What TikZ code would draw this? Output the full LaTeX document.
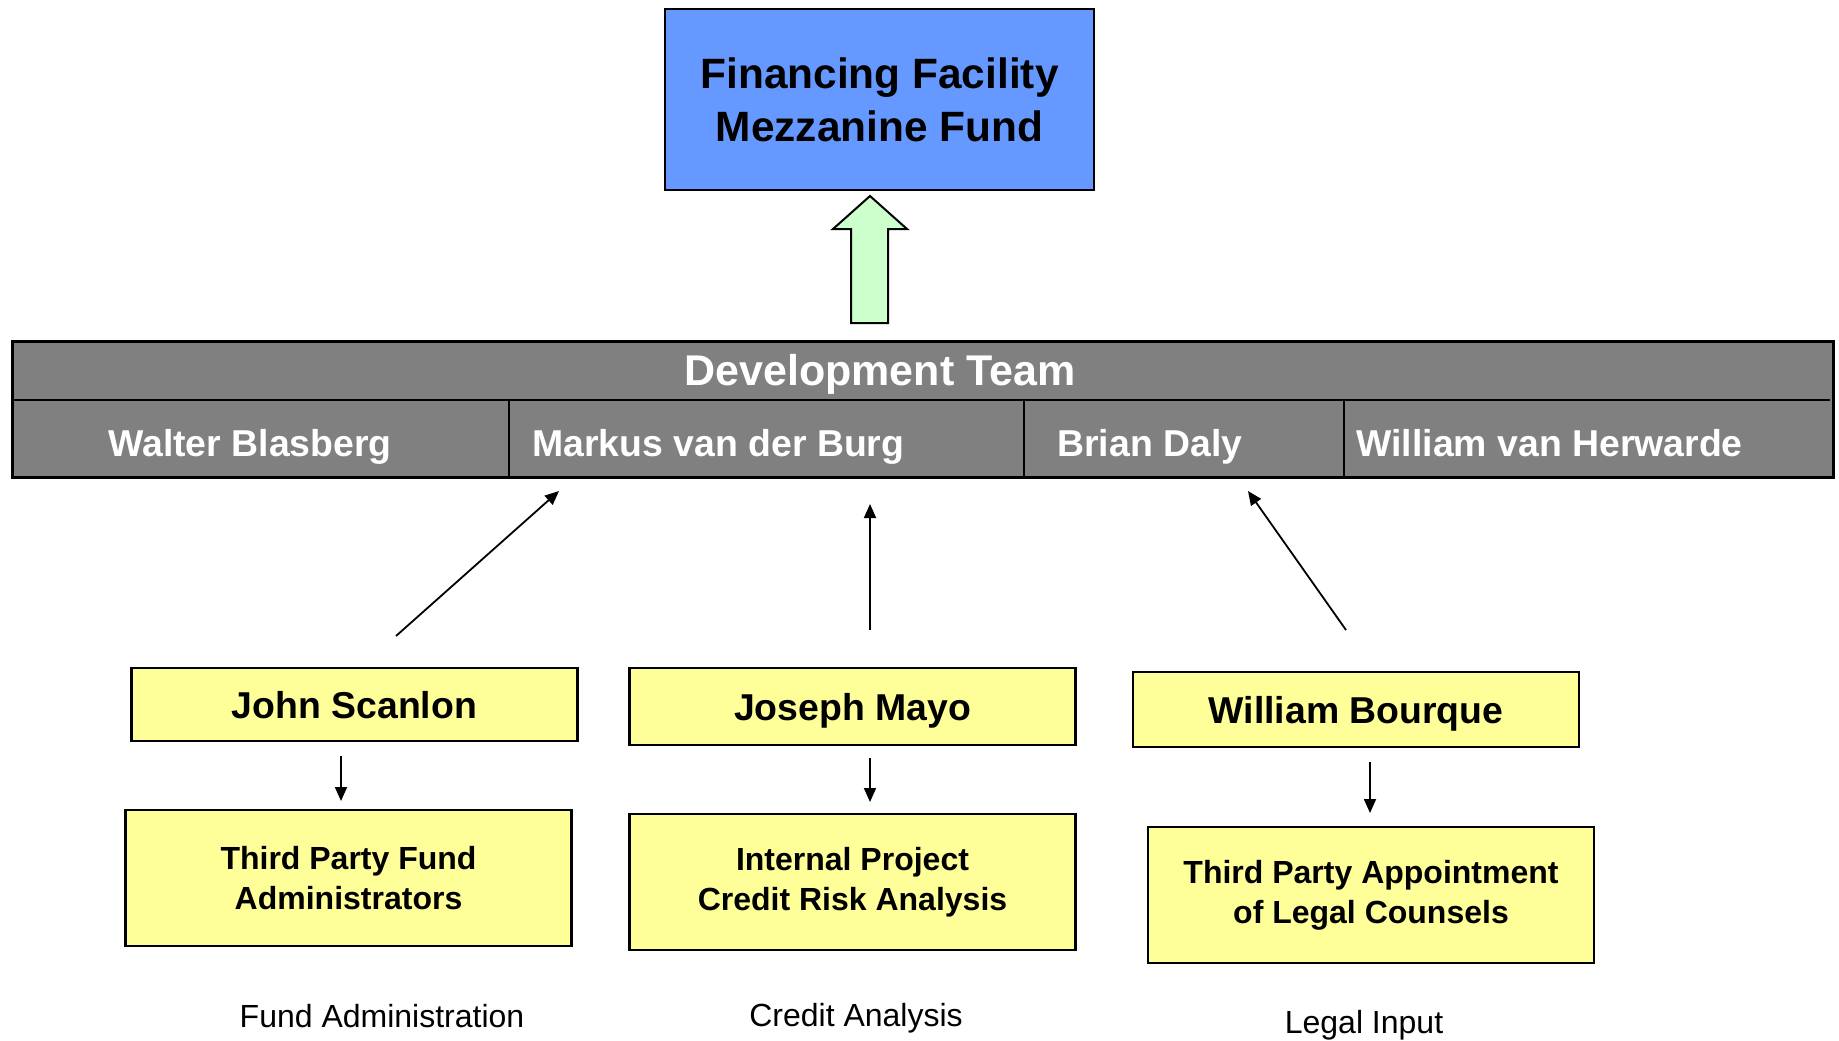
\documentclass[tikz,border=0pt]{standalone}
\usepackage{fontspec}
\setmainfont{Liberation Sans}
\usetikzlibrary{positioning, arrows.meta}
\definecolor{fundblue}{HTML}{6699FF}
\definecolor{teamgray}{HTML}{808080}
\definecolor{paleyellow}{HTML}{FFFF99}
\definecolor{palegreen}{HTML}{CCFFCC}

\begin{document}
\begin{tikzpicture}[x=0.5pt, y=-0.5pt,
    yellowbox/.style={draw=black, line width=1.2pt, fill=paleyellow, inner sep=0, align=center,
      minimum width=223pt},
    personbox/.style={yellowbox, text depth=0pt, font=\bfseries\fontsize{18.7}{22}\selectfont},
    taskbox/.style={yellowbox, minimum height=68pt, font=\bfseries\fontsize{16}{20}\selectfont},
    link/.style={-{Triangle[length=7pt, width=6pt]}, line width=0.9pt},
    divider/.style={line width=1pt},
    namelabel/.style={anchor=base west, inner sep=0, text=white, font=\bfseries\fontsize{18.7}{22}\selectfont}]

    \useasboundingbox (0,0) rectangle (1839,1040);

    % Fund at the top and the lift arrow
    \node[draw, fill=fundblue, line width=1.2pt, minimum width=214.5pt, minimum height=90.5pt,
      inner sep=0, align=center, font=\bfseries\fontsize{21.2}{26.5}\selectfont] (fund) at (879.5,99.5)
      {Financing Facility\\Mezzanine Fund};
    \draw[fill=palegreen, line width=1pt] (851,323) -- (851,229) -- (833,229) -- (870,196)
      -- (907,229) -- (888,229) -- (888,323) -- cycle;

    % Development team bar
    \node[draw, fill=teamgray, line width=1.5pt, minimum width=910.5pt, minimum height=68pt,
      inner sep=0] (team) at (922.5,409) {};
    \draw[divider] (12,400) -- (1830,400);
    \foreach \x in {509,1024,1344}
      \draw[divider] (\x,400) -- (\x,477);
    \node[text=white, font=\bfseries\fontsize{21.5}{25}\selectfont] (teamtitle) at (880,374) {Development Team};
    \foreach \x/\who/\name in {108/walter/Walter Blasberg, 532/markus/Markus van der Burg,
        1057/daly/Brian Daly, 1356/herwarde/William van Herwarde}
      \node[namelabel] (\who) at (\x,456) {\name};

    % People and their tasks
    \node[personbox, minimum height=36.5pt] (john) at (354.5,704.5) {John Scanlon};
    \node[personbox, minimum height=38.5pt] (joseph) at (852.5,706.5) {Joseph Mayo};
    \node[personbox, minimum height=37.5pt] (bourque) at (1356,709.5) {William Bourque};

    \node[taskbox] (admin) at (348.5,878) {Third Party Fund\\Administrators};
    \node[taskbox] (credit) at (852.5,882) {Internal Project\\Credit Risk Analysis};
    \node[taskbox] (legal) at (1371,895) {Third Party Appointment\\of Legal Counsels};

    % Arrows up to the team
    \coordinate (johnup) at (396,636);
    \coordinate (markusin) at (559,491);
    \coordinate (josephup) at (870,630);
    \coordinate (teamin) at (870,504);
    \coordinate (bourqueup) at (1346,630);
    \coordinate (dalyin) at (1248,491);
    \draw[link] (johnup) -- (markusin);
    \draw[link] (josephup) -- (teamin);
    \draw[link] (bourqueup) -- (dalyin);

    % Arrows down to the tasks
    \foreach \n/\x/\a/\b in {john/341/756/801, joseph/870/758/802, bourque/1370/762/813} {
      \coordinate (\n out) at (\x,\a);
      \coordinate (\n task) at (\x,\b);
      \draw[link] (\n out) -- (\n task);
    }

    % Captions
    \node[font=\fontsize{16}{20}\selectfont] (admincap) at (382,1016) {Fund Administration};
    \node[font=\fontsize{16}{20}\selectfont] (creditcap) at (856,1018) {Credit Analysis};
    \node[font=\fontsize{16}{20}\selectfont] (legalcap) at (1364,1025) {Legal Input};
\end{tikzpicture}
\end{document}
